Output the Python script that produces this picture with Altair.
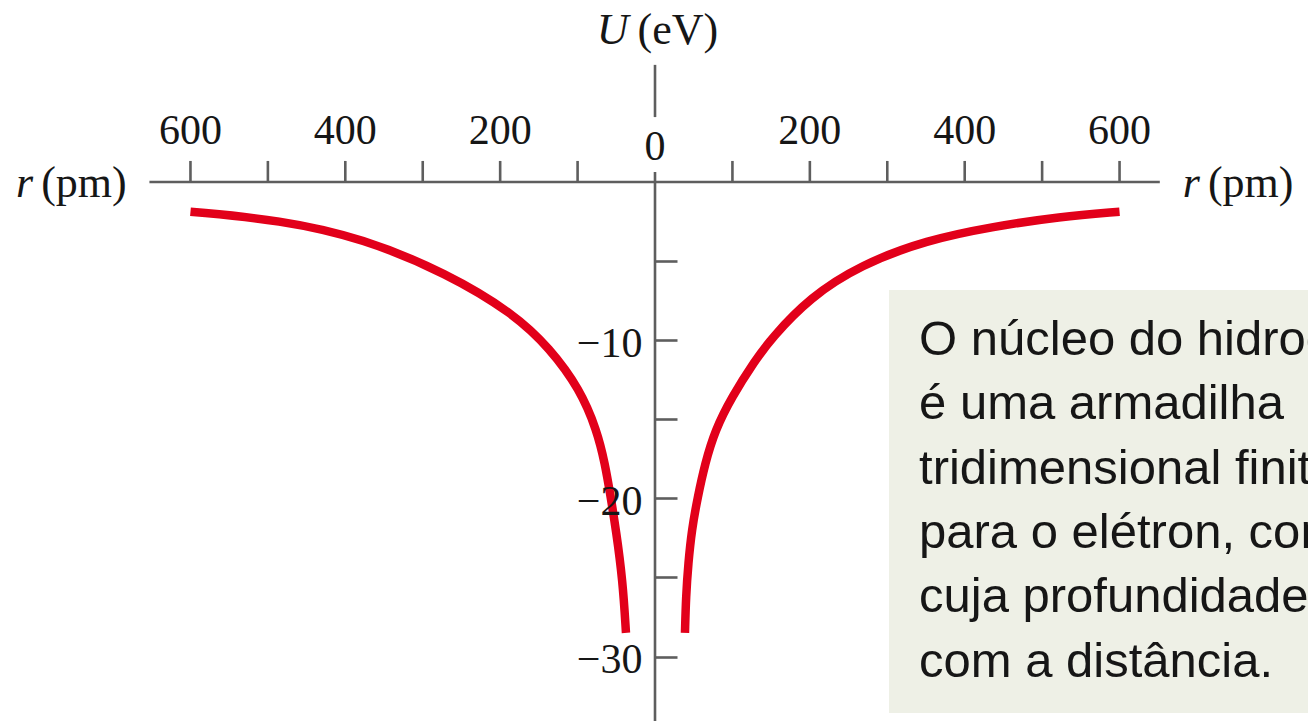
import altair as alt
import pandas as pd

# Coulomb well of the hydrogen atom: U(r) in eV against r in pm
right_r = [38.7, 40, 43, 47.4, 55.2, 64.6, 77.5, 99, 129, 150, 200, 265, 351, 437, 523, 600]
right_u = [-28.5, -26.2, -24.1, -22.0, -19.9, -17.8, -15.7, -13.6, -11.3, -9.9, -7.3, -5.25, -3.67, -2.82, -2.19, -1.88]
left_r = [-600, -484, -377, -269, -183, -136, -97, -75, -64.6, -57.3, -50.4, -41.7, -37.5]
left_u = [-1.88, -2.40, -3.56, -5.77, -8.3, -10.5, -13.1, -15.7, -17.8, -19.9, -22.0, -25.2, -28.5]

x_ticks = [-600, -500, -400, -300, -200, -100, 100, 200, 300, 400, 500, 600]
x_labels = [-600, -400, -200, 200, 400, 600]
y_ticks = [-5, -10, -15, -20, -25, -30]
y_labels = [-10, -20, -30]

note_lines = [
    "O núcleo do hidrogênio",
    "é uma armadilha",
    "tridimensional finita",
    "para o elétron, com",
    "cuja profundidade varia",
    "com a distância.",
]

X_DOMAIN = [-846, 843.4]
Y_DOMAIN = [-34.07, 11.5]

SERIF = "Liberation Serif"
SANS = "Liberation Sans"
INK = "#161616"
AXIS = "#5e5e5e"
RED = "#e2001a"
BOX = "#eef0e6"

xs = alt.Scale(domain=X_DOMAIN, nice=False, zero=False)
ys = alt.Scale(domain=Y_DOMAIN, nice=False, zero=False)


def X(field):
    return alt.X(field, type="quantitative", scale=xs, axis=None)


def Y(field, axis=None):
    return alt.Y(field, type="quantitative", scale=ys, axis=axis)


def Ydatum(value):
    return alt.YDatum(value, scale=ys, axis=None)


curve_df = pd.DataFrame({
    "r": left_r + right_r,
    "u": left_u + right_u,
    "branch": ["left"] * len(left_r) + ["right"] * len(right_r),
})

one = pd.DataFrame({"k": [0]})

# shaded caption box
box = alt.Chart(pd.DataFrame({"x0": [302.2], "x1": [900], "y0": [-6.83], "y1": [-33.57]})).mark_rect(
    color=BOX, clip=True
).encode(x=X("x0"), x2="x1", y=Y("y0"), y2="y1")

# horizontal r axis line
x_line = alt.Chart(pd.DataFrame({"a": [-653], "b": [652], "u": [0]})).mark_rule(
    color=AXIS, strokeWidth=2.6
).encode(x=X("a"), x2="b", y=Y("u"))

# upward ticks on the r axis
x_tick_marks = alt.Chart(pd.DataFrame({"r": x_ticks})).mark_rule(
    color=AXIS, strokeWidth=2.6, y2Offset=-21
).encode(x=X("r"), y=Ydatum(0), y2=alt.Y2Datum(0))

# r tick labels (distance from the nucleus, both sides positive)
x_tick_text = alt.Chart(pd.DataFrame({"r": x_labels})).transform_calculate(
    t="'' + abs(datum.r)"
).mark_text(
    font=SERIF, fontSize=42, color=INK, align="center", baseline="alphabetic"
).encode(x=X("r"), y=Ydatum(2.4), text="t:N")

# vertical U axis line, broken around the origin label; carries the inward ticks
y_line = alt.Chart(pd.DataFrame({"r": [0, 0], "u": [7.4, 0.63], "u2": [4.1, -36]})).mark_rule(
    color=AXIS, strokeWidth=2.6, clip=True
).encode(
    x=X("r"),
    y=Y("u", alt.Axis(
        orient="right", offset=-653, values=y_ticks, labels=False,
        tickSize=22, tickWidth=2.6, tickColor=AXIS, domain=False, grid=False, title=None,
    )),
    y2="u2",
)

curve = alt.Chart(curve_df).mark_line(
    color=RED, strokeWidth=8.5, interpolate="basis", strokeCap="butt"
).encode(
    x=X("r"),
    y=Y("u", alt.Axis(
        orient="left", offset=-655, values=y_labels,
        labelExpr="'\u2212' + abs(datum.value)",
        ticks=False, tickSize=0, domain=False, grid=False,
        labelFont=SERIF, labelFontSize=42, labelColor=INK, labelPadding=13,
        labelOffset=3, labelFlush=False, labelOverlap=False, title=None, zindex=1,
    )),
    detail="branch:N",
)


def label(text, r, u, align, dx, italic=False, size=44, font=SERIF):
    return alt.Chart(one).transform_calculate(r=str(r), u=str(u)).mark_text(
        text=text, align=align, baseline="alphabetic", dx=dx, font=font,
        fontSize=size, fontStyle="italic" if italic else "normal", color=INK,
    ).encode(x=X("r"), y=Y("u"))


labels = [
    label("U", -27.8, 8.75, "right", -5, italic=True),
    label("(eV)", -27.8, 8.75, "left", 4),
    label("r", -798, -0.95, "right", -4, italic=True),
    label("(pm)", -798, -0.95, "left", 4),
    label("r", 709, -0.95, "right", -4, italic=True),
    label("(pm)", 709, -0.95, "left", 4),
    label("0", 0, 1.39, "center", 0, size=42),
]

note = alt.Chart(one).transform_calculate(r="341", u="-10.94").mark_text(
    text=note_lines, align="left", baseline="alphabetic", font=SANS,
    fontSize=49, lineHeight=64.3, color=INK, clip=True,
).encode(x=X("r"), y=Y("u"))

chart = alt.layer(
    box, x_line, x_tick_marks, y_line, curve, x_tick_text, note, *labels
).resolve_axis(
    y="independent"
).properties(
    width=1308, height=721, autosize=alt.AutoSizeParams(type="none"), padding=0,
    background="white",
).configure_view(stroke=None)

chart.save("out.html", embed_options={"renderer": "svg", "actions": False})
